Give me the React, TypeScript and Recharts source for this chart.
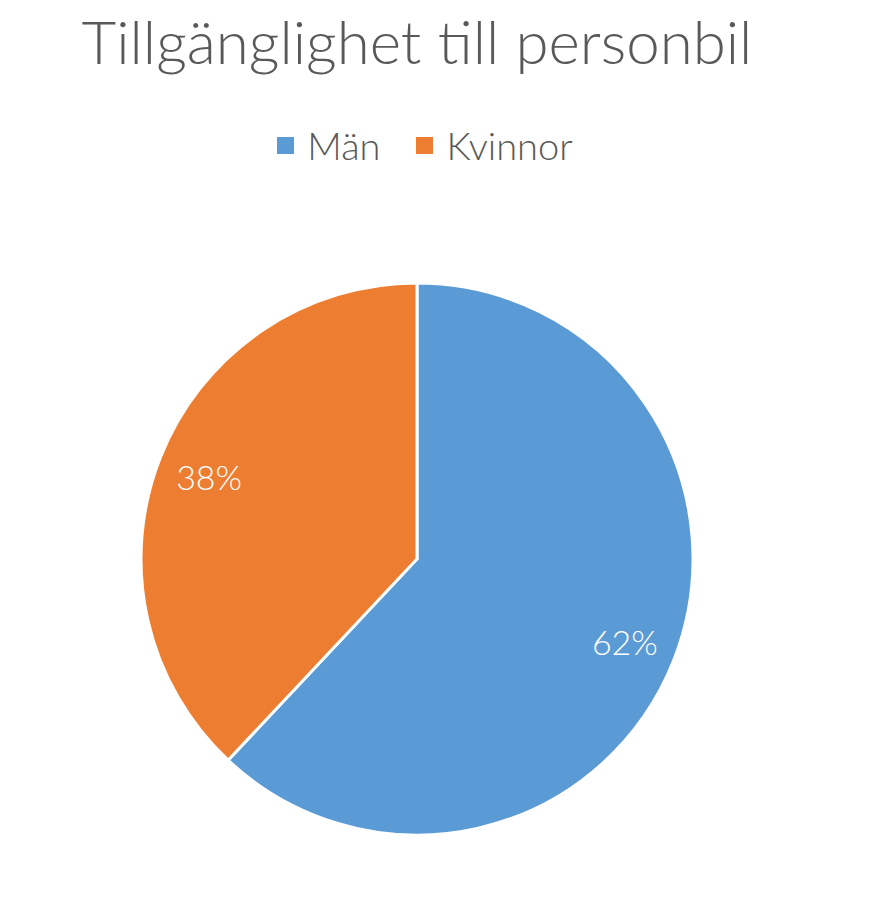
import { PieChart, Pie, Cell, Legend } from 'recharts';

const categories = ['Män', 'Kvinnor'];
const shares = [62, 38];
const colors = ['#5B9BD5', '#ED7D31'];

const chartData = categories.map((name, i) => ({ name, value: shares[i] }));

const RADIAN = Math.PI / 180;

const renderLabel = (props: any) => {
  const { cx, cy, midAngle, outerRadius, value } = props;
  const r = outerRadius * 0.81;
  const x = cx + r * Math.cos(-midAngle * RADIAN);
  const y = cy + r * Math.sin(-midAngle * RADIAN);
  return (
    <text
      x={x}
      y={y}
      fill="#ffffff"
      textAnchor="middle"
      dominantBaseline="central"
      fontSize={34}
      fontWeight={300}
    >
      {value}%
    </text>
  );
};

const renderLegend = () => (
  <div
    style={{
      display: 'flex',
      justifyContent: 'center',
      alignItems: 'center',
      gap: 36,
      fontSize: 38,
      color: '#595959',
    }}
  >
    {categories.map((name, i) => (
      <div key={name} style={{ display: 'flex', alignItems: 'center' }}>
        <span
          style={{
            display: 'inline-block',
            width: 17,
            height: 17,
            background: colors[i],
            marginRight: 13,
          }}
        />
        <span>{name}</span>
      </div>
    ))}
  </div>
);

const App = () => {
  return (
    <div
      style={{
        position: 'relative',
        width: 873,
        height: 882,
        fontFamily: 'Lato, "Open Sans", sans-serif',
        fontWeight: 300,
      }}
    >
      <div
        style={{
          position: 'absolute',
          top: -3,
          left: 0,
          width: 818,
          textAlign: 'center',
          fontSize: 60,
          color: '#595959',
          lineHeight: '72px',
        }}
      >
        Tillgänglighet till personbil
      </div>
      <PieChart
        width={873}
        height={882}
        margin={{ top: 0, right: 0, bottom: 0, left: 0 }}
      >
        <Legend
          verticalAlign="top"
          content={renderLegend}
          wrapperStyle={{ top: 114, left: 0, width: 834 }}
        />
        <Pie
          data={chartData}
          dataKey="value"
          nameKey="name"
          cx={409}
          cy={505}
          outerRadius={276}
          startAngle={90}
          endAngle={-270}
          stroke="#ffffff"
          strokeWidth={3}
          label={renderLabel}
          labelLine={false}
          isAnimationActive={false}
        >
          {chartData.map((d, i) => (
            <Cell key={d.name} fill={colors[i]} />
          ))}
        </Pie>
      </PieChart>
    </div>
  );
};

export default App;
